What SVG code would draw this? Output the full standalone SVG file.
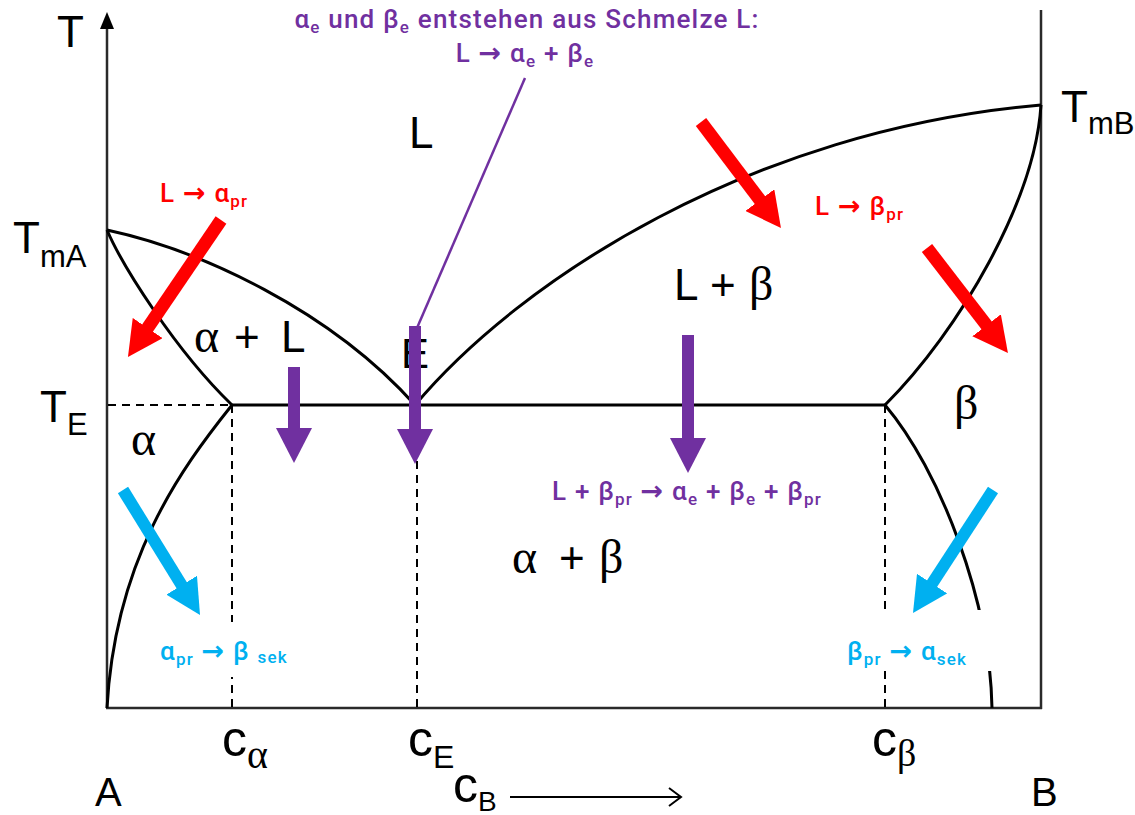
<svg xmlns="http://www.w3.org/2000/svg" width="1135" height="815" viewBox="0 0 1135 815">
<style>
.ax{fill:none;stroke:#2a2a2a;stroke-width:2.5}
.cv{fill:none;stroke:#000;stroke-width:3}
.dash{fill:none;stroke:#000;stroke-width:2;stroke-dasharray:8 6}
.lbl{font-family:"Liberation Sans",Arial,sans-serif;fill:#000}
.gr{font-family:"Liberation Serif","Times New Roman",serif;fill:#000}
.ct{font-family:Roboto,"Open Sans",sans-serif;font-weight:500;letter-spacing:1.2px}
.arw{font-family:"DejaVu Sans",sans-serif;font-weight:bold;font-size:27px}
.red{fill:#FF0000}
.pur{fill:#7030A0}
.blu{fill:#00B0F0}
.ar-red{stroke:#FF0000;stroke-width:13;fill:none}
.ar-pur{stroke:#7030A0;stroke-width:12;fill:none}
.ar-blu{stroke:#00B0F0;stroke-width:12;fill:none}
</style>
<defs>
<marker id="hRed" markerUnits="userSpaceOnUse" viewBox="0 0 35 36" refX="2" refY="18" markerWidth="35" markerHeight="36" orient="auto"><path d="M0,0 L35,18 L0,36 z" fill="#FF0000"/></marker>
<marker id="hPur" markerUnits="userSpaceOnUse" viewBox="0 0 35 36" refX="2" refY="18" markerWidth="35" markerHeight="36" orient="auto"><path d="M0,0 L35,18 L0,36 z" fill="#7030A0"/></marker>
<marker id="hBlu" markerUnits="userSpaceOnUse" viewBox="0 0 35 36" refX="2" refY="18" markerWidth="35" markerHeight="36" orient="auto"><path d="M0,0 L35,18 L0,36 z" fill="#00B0F0"/></marker>
</defs>
<rect width="1135" height="815" fill="#fff"/>

<g id="axes">
<line class="ax" x1="107" y1="26" x2="107" y2="708"/>
<path d="M107,12 L100,29 L114,29 z" fill="#000"/>
<line class="ax" x1="106" y1="708" x2="1042" y2="708"/>
<line class="ax" x1="1041" y1="10" x2="1041" y2="709"/>
<path d="M510,797 L681,797 M669,788 L681,797 L669,806" fill="none" stroke="#000" stroke-width="2"/>
</g>

<g id="dashed">
<line class="dash" x1="108" y1="405" x2="232" y2="405"/>
<line class="dash" x1="232" y1="405" x2="232" y2="708"/>
<line class="dash" x1="417" y1="405" x2="417" y2="708"/>
<line class="dash" x1="885" y1="405" x2="885" y2="708"/>
</g>

<g id="curves">
<path class="cv" d="M107,230 C200,250 330,310 415,405"/>
<path class="cv" d="M107,230 C122,265 175,350 232,405"/>
<path class="cv" d="M232,405 C180,470 115,560 107,708"/>
<line class="cv" x1="232" y1="405" x2="885" y2="405"/>
<path class="cv" d="M415,405 C520,280 750,130 1041,105"/>
<path class="cv" d="M1041,105 C1035,200 960,330 885,405"/>
<path class="cv" d="M885,405 C940,470 990,600 992,708"/>
</g>

<g id="axis-labels">
<text class="lbl" x="57" y="47" font-size="44">T</text>
<text class="lbl" x="13" y="253" font-size="44">T<tspan font-size="31" dy="14">mA</tspan></text>
<text class="lbl" x="40" y="422" font-size="44">T<tspan font-size="31" dy="13">E</tspan></text>
<text class="lbl" x="1061" y="122" font-size="44">T<tspan font-size="31" dy="12">mB</tspan></text>
<text class="lbl" x="95" y="806" font-size="40">A</text>
<text class="lbl" x="1031" y="806" font-size="40">B</text>
<text class="lbl" x="222" y="756" font-size="50">c<tspan class="gr" font-size="40" dy="12">α</tspan></text>
<text class="lbl" x="408" y="756" font-size="50">c<tspan font-size="32" dy="12">E</tspan></text>
<text class="lbl" x="872" y="756" font-size="50">c<tspan class="gr" font-size="38" dy="10">β</tspan></text>
<text class="lbl" x="453" y="802" font-size="50">c<tspan font-size="28" dy="9">B</tspan></text>
</g>

<g id="region-labels">
<text class="lbl" x="409" y="148" font-size="44">L</text>
<text class="gr" x="194" y="352" font-size="48">α</text>
<text class="lbl" x="234" y="352" font-size="44">+</text>
<text class="lbl" x="281" y="352" font-size="44">L</text>
<text class="lbl" x="401" y="368" font-size="42">E</text>
<text class="lbl" x="674" y="300" font-size="44">L</text>
<text class="lbl" x="710" y="300" font-size="44">+</text>
<text class="gr" x="749" y="300" font-size="48">β</text>
<text class="gr" x="954" y="419" font-size="48">β</text>
<text class="gr" x="131" y="455" font-size="48">α</text>
<text class="gr" x="512" y="573" font-size="48">α</text>
<text class="lbl" x="559" y="573" font-size="44">+</text>
<text class="gr" x="599" y="573" font-size="48">β</text>
</g>

<g id="label-bg" fill="#fff">
<rect x="155" y="622" width="137" height="55"/>
<rect x="842" y="610" width="153" height="61"/>
</g>

<g id="connectors">
<line x1="525" y1="78" x2="417" y2="328" stroke="#7030A0" stroke-width="2.5"/>
<line class="ar-red" x1="221" y1="220" x2="146.5" y2="329.7" marker-end="url(#hRed)"/>
<line class="ar-red" x1="701" y1="122" x2="761.1" y2="201.7" marker-end="url(#hRed)"/>
<line class="ar-red" x1="927" y1="248" x2="987.8" y2="326.9" marker-end="url(#hRed)"/>
<line class="ar-pur" x1="415" y1="326" x2="415" y2="431" marker-end="url(#hPur)"/>
<line class="ar-pur" x1="294" y1="367" x2="294" y2="430" marker-end="url(#hPur)"/>
<line class="ar-pur" x1="688" y1="335" x2="688" y2="440" marker-end="url(#hPur)"/>
<line class="ar-blu" x1="123" y1="490" x2="182.7" y2="586.9" marker-end="url(#hBlu)"/>
<line class="ar-blu" x1="993" y1="490" x2="931" y2="585.3" marker-end="url(#hBlu)"/>
</g>

<g id="annotations">
<text class="ct pur" x="527" y="28" font-size="26" text-anchor="middle">α<tspan font-size="17" dy="5">e</tspan><tspan dy="-5"> und β</tspan><tspan font-size="17" dy="5">e</tspan><tspan dy="-5"> entstehen aus Schmelze L:</tspan></text>
<text class="ct pur" x="525" y="62" font-size="26" text-anchor="middle">L <tspan class="arw">→</tspan> α<tspan font-size="17" dy="5">e</tspan><tspan dy="-5"> + β</tspan><tspan font-size="17" dy="5">e</tspan></text>
<text class="ct red" x="160" y="202" font-size="26">L <tspan class="arw">→</tspan> α<tspan font-size="17" dy="5">pr</tspan></text>
<text class="ct red" x="815" y="215" font-size="26">L <tspan class="arw">→</tspan> β<tspan font-size="17" dy="5">pr</tspan></text>
<text class="ct pur" x="552" y="500" font-size="26">L + β<tspan font-size="17" dy="5">pr</tspan><tspan dy="-5"> </tspan><tspan class="arw">→</tspan> α<tspan font-size="17" dy="5">e</tspan><tspan dy="-5"> + β</tspan><tspan font-size="17" dy="5">e</tspan><tspan dy="-5"> + β</tspan><tspan font-size="17" dy="5">pr</tspan></text>
<text class="ct blu" x="160" y="660" font-size="26">α<tspan font-size="17" dy="5">pr</tspan><tspan dy="-5"> </tspan><tspan class="arw">→</tspan> β <tspan font-size="17" dy="3">sek</tspan></text>
<text class="ct blu" x="847" y="660" font-size="26">β<tspan font-size="17" dy="5">pr</tspan><tspan dy="-5"> </tspan><tspan class="arw">→</tspan> α<tspan font-size="17" dy="5">sek</tspan></text>
</g>
</svg>
